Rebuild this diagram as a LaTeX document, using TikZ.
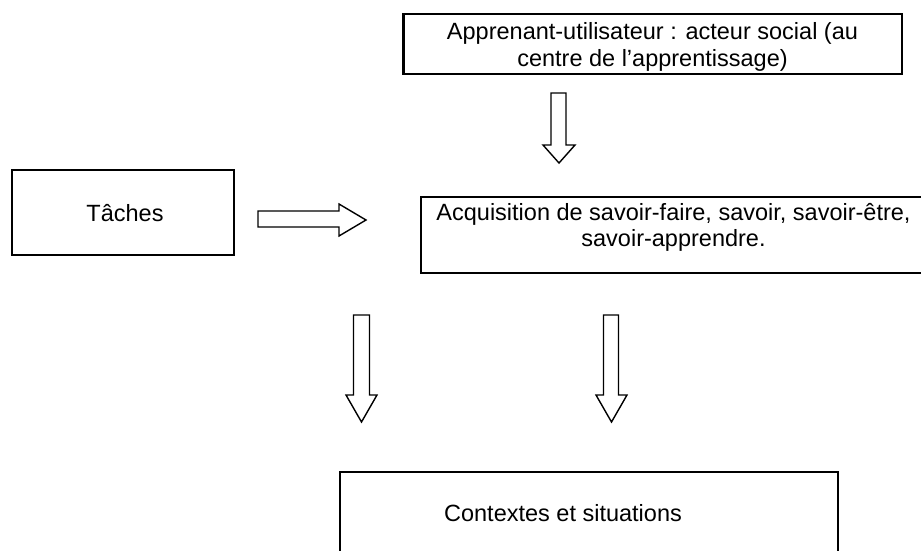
\documentclass[tikz,border=0pt]{standalone}
\usepackage{fontspec}
\setmainfont{Liberation Sans}
\begin{document}
\begin{tikzpicture}[x=1pt,y=-1pt,
  box/.style={draw, line width=2.4pt, rectangle, inner sep=0pt},
  lbl/.style={anchor=base, inner sep=0pt, font=\fontsize{23.5}{27}\selectfont},
  blockarr/.style={draw, line width=1.4pt, line join=miter, fill=white}]
\useasboundingbox (0,0) rectangle (921,550);
\fill[white] (0,0) rectangle (921,550);

% boxes
\node[box, minimum width=498.5pt, minimum height=60pt] (topbox) at (652.75,44) {};
\node[box, minimum width=222pt, minimum height=85pt] (taches) at (123,212.5) {};
\node[box, minimum width=504pt, minimum height=76pt] (acq) at (673,235) {};
\node[box, minimum width=498pt, minimum height=128pt] (ctx) at (589,536) {};

% texts
\node[lbl] (topA) at (652.5,39) {Apprenant-utilisateur : acteur social (au};
\node[lbl] (topB) at (652.5,66) {centre de l’apprentissage)};
\node[lbl] (tachesT) at (125,221) {Tâches};
\node[lbl] (acqA) at (673.5,220) {Acquisition de savoir-faire, savoir, savoir-être,};
\node[lbl] (acqB) at (673.5,246) {savoir-apprendre.};
\node[lbl] (ctxT) at (563,521) {Contextes et situations};

% block arrows
\draw[blockarr] (551,93) -- (566,93) -- (566,145) -- (575,145) -- (559,163)
  -- (543,145) -- (551,145) -- cycle;
\draw[blockarr] (258,211) -- (339,211) -- (339,204) -- (366,220) -- (339,236)
  -- (339,227) -- (258,227) -- cycle;
\draw[blockarr] (353.5,315) -- (369.5,315) -- (369.5,395) -- (377,395) -- (361.5,422)
  -- (346,395) -- (353.5,395) -- cycle;
\draw[blockarr] (603.5,315) -- (618.5,315) -- (618.5,395) -- (627,395) -- (611.5,422)
  -- (596,395) -- (603.5,395) -- cycle;
\end{tikzpicture}
\end{document}
